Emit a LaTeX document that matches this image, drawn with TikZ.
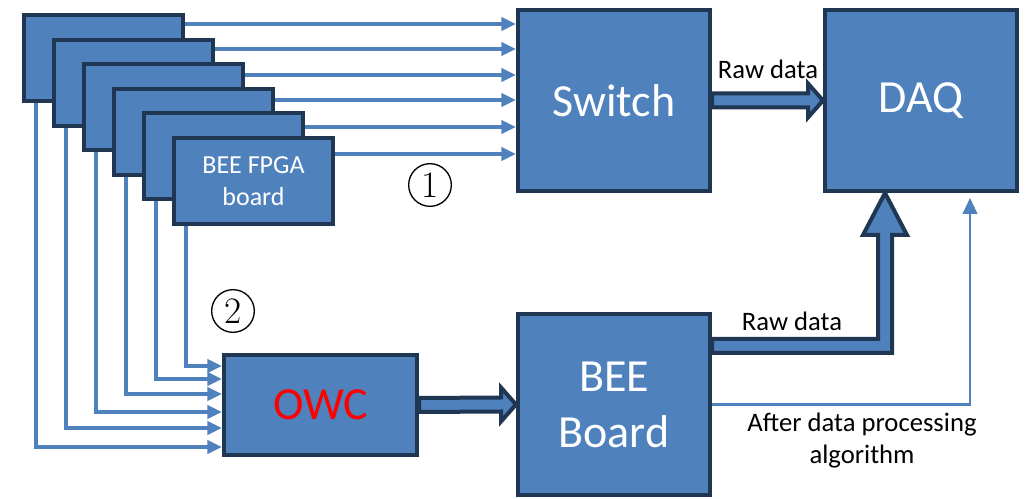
\documentclass[tikz,border=0pt]{standalone}
\usepackage{fontspec}
\newfontfamily\calfont{Carlito}
\usetikzlibrary{arrows.meta,calc}
\definecolor{boxblue}{HTML}{4F81BD}
\definecolor{boxline}{HTML}{1F3752}
\tikzset{
  blk/.style={draw=boxline,line width=3pt,fill=boxblue,text=white,align=center,inner sep=0pt,
    font=\calfont\fontsize{34.5}{42}\selectfont,minimum width=144pt,minimum height=135.75pt},
  brd/.style={blk,font=\calfont\fontsize{19.5}{24}\selectfont,minimum width=119.25pt,minimum height=64.5pt},
  sig/.style={draw=boxblue,line width=2.4pt,-{Triangle[length=11pt,width=10pt]}},
  fat/.style={draw=boxline,line width=3pt,fill=boxblue},
  lbl/.style={font=\calfont\fontsize{20}{24}\selectfont,align=center,inner sep=0pt},
  circ/.style={circle,draw,line width=1pt,inner sep=0pt,minimum size=32pt,font=\fontsize{28}{28}\selectfont}
}
\newcommand{\board}[4]{\node[brd] (#1) at (#2,#3) {#4};}
\newcommand{\fatlink}[2]{\draw[fat] ($(#1.east)+(0,-7)$) -- ($(#2.west)+(-15,-7)$) -- ($(#2.west)+(-15,-17)$)
  -- (#2.west) -- ($(#2.west)+(-15,17)$) -- ($(#2.west)+(-15,7)$) -- ($(#1.east)+(0,7)$) -- cycle;}

\begin{document}
\begin{tikzpicture}[x=0.75pt,y=-0.75pt]
    \useasboundingbox (0,0) rectangle (1026,499);
    \board{b1}{103.5}{58}{}    \board{b2}{133.5}{82.6}{}
    \board{b3}{163.5}{107.2}{} \board{b4}{193.5}{131.8}{}
    \board{b5}{223.5}{156.4}{} \board{b6}{253.5}{181}{BEE FPGA\\board}
    \node[blk] (sw) at (614,100.5) {Switch};
    \node[blk] (daq) at (921,100.5) {DAQ};
    \node[blk,minimum width=144.75pt,minimum height=75pt,text=red] (owc) at (320.5,405) {OWC};
    \node[blk] (bee) at (614,404.5) {BEE\\Board};
    % board outputs: link 1 to the switch, link 2 to the OWC
    \foreach \i/\ya/\yb in {1/24/447,2/49/428,3/75/412,4/100/394,5/127/379,6/154/366} {
      \draw[sig] (b\i.east |- 0,\ya) -- (sw.west |- 0,\ya);
      \draw[sig] ($(b\i.south west)+(14,0)$) |- (owc.west |- 0,\yb);
    }
    \fatlink{sw}{daq}\fatlink{owc}{bee}
    \coordinate (tipB) at ($(daq.south)+(-36,0)$);
    \coordinate (startB) at ($(bee.north east)+(0,34)$);
    \coordinate (cornB) at (tipB |- startB);
    \draw[fat] ($(startB)+(0,7)$) -- ($(cornB)+(7,7)$) -- ($(tipB)+(7,42)$) -- ($(tipB)+(22,42)$) -- (tipB)
      -- ($(tipB)+(-22,42)$) -- ($(tipB)+(-7,42)$) -- ($(cornB)+(-7,-7)$) -- ($(startB)+(0,-7)$) -- cycle;
    \draw[sig,line width=1.6pt,-{Triangle[length=12pt,width=11pt]}] (bee.east) -| ($(daq.south)+(49,5)$);
    \node[lbl] (raw1) at (768,69) {Raw data};
    \node[lbl] (raw2) at (792,321) {Raw data};
    \node[lbl] (proc) at (862,441) {After data processing\\algorithm};
    \node[circ] (c1) at (430,185) {1};
    \node[circ] (c2) at (233,311) {2};
\end{tikzpicture}
\end{document}
